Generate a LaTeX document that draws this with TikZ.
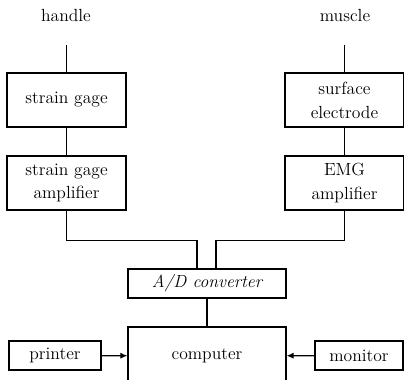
\documentclass[tikz,border=0pt]{standalone}
\usetikzlibrary{arrows.meta}
\begin{document}
\begin{tikzpicture}[
    x=0.025cm, y=-0.025cm,
    block/.style={rectangle, draw, line width=0.9pt, font=\fontsize{12.5}{17}\selectfont, align=center, inner sep=2pt},
    tall/.style={block, minimum width=2.975cm, minimum height=1.35cm},
    flat/.style={block, minimum height=0.725cm},
    link/.style={line width=0.9pt},
    tip/.style={link, -{Latex[length=5pt,width=4.5pt]}}
]
\useasboundingbox (0,0) rectangle (404,380);
\clip (0,0) rectangle (404,380);

% Quellen
\node[font=\fontsize{12.5}{15}\selectfont] (handle) at (66,15) {handle};
\node[font=\fontsize{12.5}{15}\selectfont] (muscle) at (345,15) {muscle};
\coordinate (hin) at (66.5,45);
\coordinate (min) at (344.5,45);

% Linker Zweig
\node[tall] (sg) at (66.5,100) {strain gage};
\node[tall] (sga) at (66.5,183) {strain gage\\amplifier};

% Rechter Zweig
\node[tall] (se) at (344.5,100) {surface\\electrode};
\node[tall] (emg) at (344.5,183) {EMG\\amplifier};

% Wandler und Rechner
\node[flat, minimum width=3.95cm, font=\fontsize{12.5}{15}\selectfont\itshape] (ad) at (207,283.5) {A/D converter};
\coordinate (adl) at (197,269);
\coordinate (adr) at (216,269);
\node[block, minimum width=3.95cm, minimum height=1.45cm] (comp) at (207,356) {computer};
\node[flat, minimum width=2.3cm] (printer) at (55,355.5) {printer};
\node[flat, minimum width=2.2cm] (monitor) at (359,355.5) {monitor};

% Verbindungen
\draw[link] (hin) -- (sg);
\draw[link] (min) -- (se);
\draw[link] (sg) -- (sga);
\draw[link] (se) -- (emg);
\draw[link] (sga.south) -- ++(0,30) -| (adl);
\draw[link] (emg.south) -- ++(0,30) -| (adr);
\draw[link] (ad) -- (comp);
\draw[tip] (printer) -- (comp);
\draw[tip] (monitor) -- (comp);

\end{tikzpicture}
\end{document}
